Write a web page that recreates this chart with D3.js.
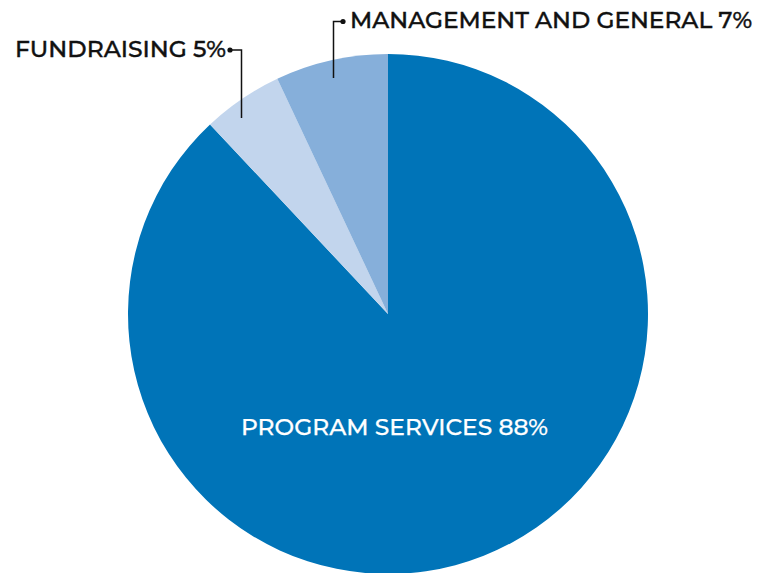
<!DOCTYPE html>
<html><head><meta charset="utf-8">
<script src="https://cdn.jsdelivr.net/npm/d3@7"></script>
<style>body{margin:0;background:#fff}svg{display:block}</style>
</head><body>
<script>
const categories = ["PROGRAM SERVICES", "FUNDRAISING", "MANAGEMENT AND GENERAL"];
const values = [88, 5, 7];
const colors = ["#0074b8", "#c2d5ed", "#86afda"];

const W = 771, H = 573;
const svg = d3.select("body").append("svg").attr("width", W).attr("height", H);
const cx = 388, cy = 314, R = 260;
const data = categories.map((c, i) => ({name: c, value: values[i], color: colors[i]}));
const pie = d3.pie().sort(null).value(d => d.value).startAngle(0).endAngle(2 * Math.PI);
const arc = d3.arc().innerRadius(0).outerRadius(R);
const g = svg.append("g").attr("transform", `translate(${cx},${cy})`);
g.selectAll("path").data(pie(data)).join("path")
  .attr("d", arc).attr("fill", d => d.data.color);

const font = "Montserrat, 'Open Sans', Lato, sans-serif";
function label(x, y, txt, len, col, sw) {
  svg.append("text").attr("x", x).attr("y", y)
    .attr("fill", col).attr("stroke", col).attr("stroke-width", sw)
    .attr("font-family", font).attr("font-size", 22).attr("font-weight", 500)
    .attr("textLength", len).attr("lengthAdjust", "spacingAndGlyphs")
    .text(txt);
}
label(241, 435, `${categories[0]} ${values[0]}%`, 307, "#fff", 0.25);
label(15, 57, `${categories[1]} ${values[1]}%`, 211, "#111", 0.4);
label(350, 28, `${categories[2]} ${values[2]}%`, 402, "#111", 0.4);

svg.append("path").attr("d", "M230,50 H241.5 V118").attr("fill", "none").attr("stroke", "#111").attr("stroke-width", 1.5);
svg.append("circle").attr("cx", 230).attr("cy", 50).attr("r", 2.6).attr("fill", "#111");
svg.append("path").attr("d", "M343,21.5 H333.5 V78").attr("fill", "none").attr("stroke", "#111").attr("stroke-width", 1.5);
svg.append("circle").attr("cx", 343).attr("cy", 21.5).attr("r", 2.6).attr("fill", "#111");
</script>
</body></html>
